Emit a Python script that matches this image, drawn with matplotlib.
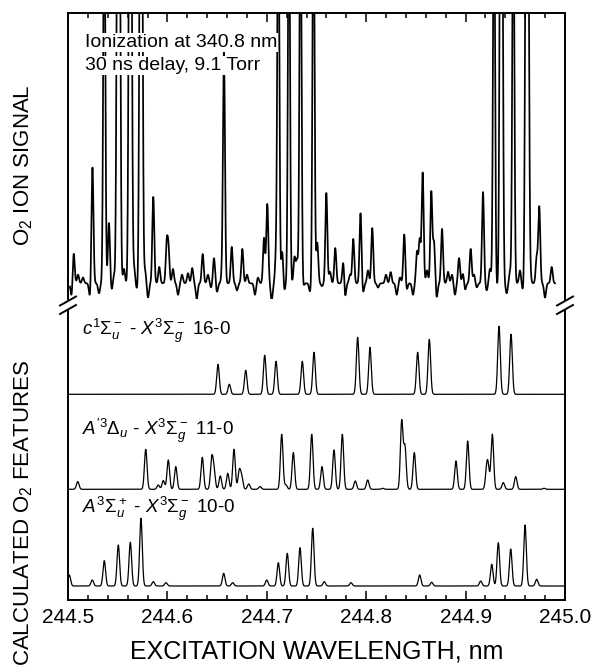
import numpy as np
import matplotlib.pyplot as plt
from matplotlib.lines import Line2D
from matplotlib.ticker import MultipleLocator

plt.rcParams['font.family'] = ['Liberation Sans', 'DejaVu Sans']
plt.rcParams['mathtext.fontset'] = 'custom'
plt.rcParams['mathtext.rm'] = 'Liberation Sans'
plt.rcParams['mathtext.it'] = 'Liberation Sans:italic'
plt.rcParams['mathtext.bf'] = 'Liberation Sans:bold'

# ---- experimental O2 ion signal (nm, height above baseline in panel units) ----
scan_start, scan_end = 244.502, 244.990
signal_base = 0.055
sig_pos = [244.5057, 244.5246, 244.5365, 244.5412, 244.5498, 244.5518, 244.5619,
           244.5634, 244.5727, 244.5742, 244.5858, 244.5918, 244.5993, 244.6011,
           244.6250, 244.6355, 244.6469, 244.6569, 244.6647, 244.6754, 244.6972,
           244.7005, 244.7116, 244.7156, 244.7223, 244.7339, 244.7470, 244.7508,
           244.7599, 244.7689, 244.7770, 244.7870, 244.7943, 244.8061, 244.8246,
           244.8383, 244.8511, 244.8538, 244.8568, 244.8655, 244.8682, 244.8763,
           244.8934, 244.9051, 244.9175, 244.9286, 244.9351, 244.9366, 244.9480,
           244.9608, 244.9628, 244.9741, 244.9866]
sig_top = [0.164, 0.462, 1.5, 0.266, 1.5, 1.5, 1.5,
           1.5, 1.5, 1.5, 0.357, 0.112, 0.189, 0.171,
           0.108, 0.157, 0.143, 0.864, 0.182, 0.175, 0.213,
           0.332, 1.5, 0.171, 1.5, 1.5, 1.5, 0.196,
           0.371, 0.178, 0.136, 0.210, 0.301, 0.248, 0.094,
           0.227, 0.164, 0.206, 0.441, 0.374, 0.196, 0.245,
           0.143, 0.175, 0.374, 1.5, 1.5, 1.5, 1.5,
           1.5, 1.5, 0.322, 0.112]
# small wiggles of the noisy baseline (dips negative)
noise_pos = [244.5037, 244.5221, 244.5312, 244.5440, 244.5694, 244.5805, 244.6107,
             244.6295, 244.6439, 244.6499, 244.6700, 244.6881, 244.7049, 244.7173,
             244.7364, 244.7435, 244.7555, 244.7787, 244.7968, 244.8119, 244.8307,
             244.8407, 244.8471, 244.8709, 244.8893, 244.8994, 244.9112, 244.9212,
             244.9313, 244.9413, 244.9577, 244.9799,
             244.5101, 244.5151, 244.5463, 244.5563, 244.5664, 244.5775, 244.6056,
             244.6147, 244.6207, 244.6408, 244.6549, 244.6801, 244.6911, 244.7093,
             244.7279, 244.7304, 244.7636, 244.7837, 244.8018, 244.8199, 244.8340,
             244.8612, 244.8823, 244.8863, 244.8974, 244.9085, 244.9245, 244.9447,
             244.9547, 244.9648, 244.9715]
noise_amp = [-0.05, -0.05, -0.035, -0.025, -0.02, -0.05, -0.04,
             -0.055, -0.015, -0.03, -0.025, -0.04, -0.06, -0.035,
             -0.015, -0.03, -0.01, -0.055, -0.035, -0.015, -0.04,
             -0.025, -0.04, -0.05, -0.04, -0.025, -0.015, -0.025,
             -0.015, -0.035, -0.025, -0.05,
             0.03, 0.02, 0.03, 0.05, 0.055, 0.045, 0.05,
             0.03, 0.035, 0.03, 0.025, 0.03, 0.02, 0.09,
             0.09, 0.08, 0.04, 0.03, 0.045, 0.03, 0.02,
             0.045, 0.04, 0.03, 0.035, 0.03, 0.05, 0.04,
             0.045, 0.04, 0.09]

# ---- calculated bands: line positions (nm) and intensities ----
c_pos = [244.6509, 244.6623, 244.6788, 244.6979, 244.7093, 244.7357, 244.7475,
         244.7914, 244.8038, 244.8518, 244.8635, 244.9336, 244.9457]
c_int = [30, 10, 24, 39, 33, 33, 42, 57, 47, 42, 55, 68, 60]

ap_pos = [244.5098, 244.5782, 244.5908, 244.5959, 244.6009, 244.6084, 244.6351,
          244.6446, 244.6469, 244.6532, 244.6607, 244.6670, 244.6723, 244.6747,
          244.6818, 244.6932, 244.7150, 244.7193, 244.7267, 244.7452, 244.7555,
          244.7676, 244.7760, 244.7890, 244.8015, 244.8166, 244.8357, 244.8390,
          244.8484, 244.8903, 244.9021, 244.9212, 244.9228, 244.9269, 244.9379,
          244.9504, 244.9789]
ap_int = [7.7, 40, 4.3, 8.7, 29.3, 22.7, 32,
          30, 18, 13.3, 16, 40, 18, 12,
          5.3, 2.7, 55, 4.3, 36.7, 55, 22.7,
          39.3, 55, 8.3, 9.3, 1, 68, 42,
          36.7, 28.3, 48.3, 18, 18, 55, 6.7,
          12.7, 1]

a_pos = [244.5013, 244.5244, 244.5365, 244.5506, 244.5627, 244.5734, 244.5858,
         244.5986, 244.6566, 244.6657, 244.6999, 244.7116, 244.7206, 244.7334,
         244.7462, 244.7578, 244.7847, 244.8538, 244.8659, 244.9152, 244.9263,
         244.9329, 244.9454, 244.9598, 244.9715]
a_int = [11, 6, 25.3, 41, 43.7, 67.7, 4.3,
         3.3, 12.7, 3.3, 6, 23.3, 32.7, 38.3,
         57.7, 4.3, 3.3, 11, 3.7, 5, 21.7,
         43.3, 37, 61, 6.7]

band_labels = [r'$c^1\Sigma_u^-$ - $X^3\Sigma_g^-$ 16-0',
               r"$A^{\prime 3}\Delta_u$ - $X^3\Sigma_g^-$ 11-0",
               r'$A^3\Sigma_u^+$ - $X^3\Sigma_g^-$ 10-0']


def lines_to_profile(x, pos, amp, width):
    y = np.zeros_like(x)
    for p, a in zip(pos, amp):
        y += a * np.exp(-0.5 * ((x - p) / width) ** 2)
    return y


W, H = 591, 671
fig = plt.figure(figsize=(W / 100, H / 100), dpi=100)


def box(left, top, right, bottom):
    return [left / W, 1 - bottom / H, (right - left) / W, (bottom - top) / H]


ax_top = fig.add_axes(box(68, 13, 565, 299))
ax_bot = fig.add_axes(box(68, 310, 565, 600))

# top panel: measured signal
xs = np.linspace(scan_start, scan_end, 4000)
ys = signal_base + lines_to_profile(xs, sig_pos, np.array(sig_top) - signal_base, 0.0010)
ys += lines_to_profile(xs, noise_pos, noise_amp, 0.0010)
ax_top.plot(xs, ys, color='black', lw=1.25)
ax_top.set_ylim(0, 1)

ax_top.text(0.034, 0.882, 'Ionization at 340.8 nm', transform=ax_top.transAxes,
            fontsize=14, va='baseline', zorder=5,
            bbox=dict(facecolor='white', edgecolor='none', pad=0.5))
ax_top.text(0.034, 0.801, '30 ns delay, 9.1 Torr', transform=ax_top.transAxes,
            fontsize=14, va='baseline', zorder=5,
            bbox=dict(facecolor='white', edgecolor='none', pad=0.5))

# bottom panel: three calculated bands, stacked
xc = np.linspace(244.5, 245.0, 5001)
offsets = [205.7, 110.7, 14]
bands = [(c_pos, c_int), (ap_pos, ap_int), (a_pos, a_int)]
label_y = [265, 165, 87]
for (pos, inten), off, lab, ly in zip(bands, offsets, band_labels, label_y):
    ax_bot.plot(xc, off + lines_to_profile(xc, pos, inten, 0.0013), color='black', lw=0.9)
    ax_bot.text(0.028, ly, lab, transform=ax_bot.get_yaxis_transform(),
                fontsize=13.5, va='baseline')
ax_bot.set_ylim(0, 290)

for ax in (ax_top, ax_bot):
    ax.set_xlim(244.5, 245.0)
    ax.set_yticks([])
    ax.xaxis.set_major_locator(MultipleLocator(0.1))
    ax.xaxis.set_minor_locator(MultipleLocator(0.02))
    ax.tick_params(axis='x', which='major', direction='in', length=6.5, width=1.1)
    ax.tick_params(axis='x', which='minor', direction='in', length=3.5, width=1.1)
    for s in ax.spines.values():
        s.set_linewidth(1.4)

ax_top.spines['bottom'].set_visible(False)
ax_top.tick_params(axis='x', which='both', top=True, bottom=False,
                   labeltop=False, labelbottom=False)
ax_bot.spines['top'].set_visible(False)
ax_bot.tick_params(axis='x', which='both', top=False, bottom=True,
                   labelsize=15, pad=6)
ax_bot.xaxis.set_major_formatter(plt.FormatStrFormatter('%.1f'))

# axis-break marks on both sides
for xm in (68, 565):
    for ym in (301, 309.5):
        fig.add_artist(Line2D([(xm - 8) / W, (xm + 8) / W],
                              [1 - (ym + 4.5) / H, 1 - (ym - 4.5) / H],
                              color='black', lw=1.4))

fig.text(316.5 / W, 1 - 652 / H, 'EXCITATION WAVELENGTH, nm', fontsize=18,
         ha='center', va='center')
fig.text(24 / W, 1 - 165 / H, r'O$_2$ ION SIGNAL', fontsize=16, rotation=90,
         ha='center', va='center')
fig.text(24 / W, 1 - 513 / H, r'CALCULATED O$_2$ FEATURES', fontsize=16,
         rotation=90, ha='center', va='center')

fig.savefig('out.png', dpi=100)
